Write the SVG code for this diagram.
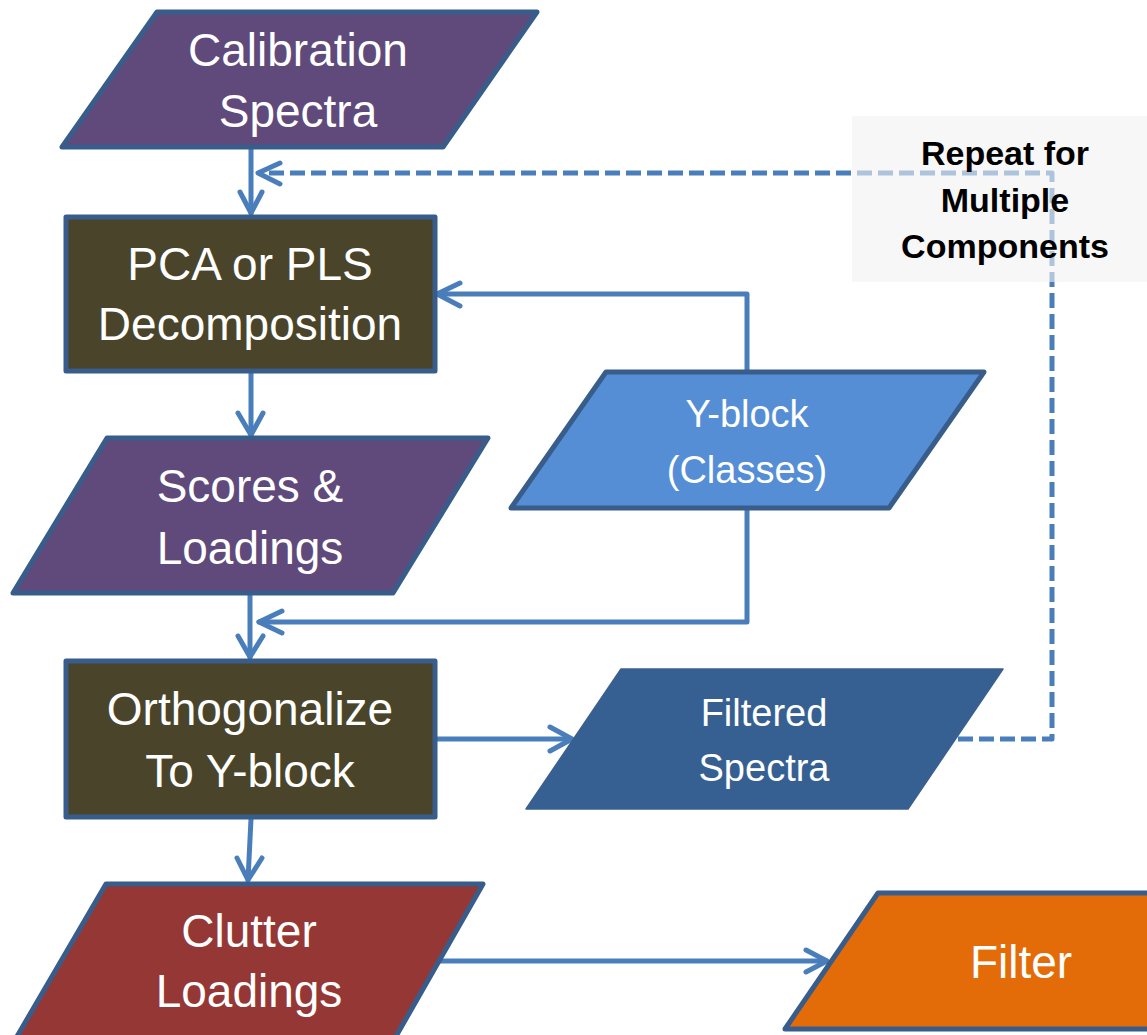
<svg xmlns="http://www.w3.org/2000/svg" width="1147" height="1035" viewBox="0 0 1147 1035">
<style>
.shape{stroke:#385d8a;stroke-width:5;stroke-linejoin:round}
.lbl{font-family:"Liberation Sans",Arial,sans-serif;fill:#ffffff;text-anchor:middle}
.big{font-size:46px}
.mid{font-size:38px}
.con{fill:none;stroke:#4a7ebb;stroke-width:5;stroke-linecap:round;stroke-linejoin:round}
.dash{stroke-dasharray:15 6;stroke-linecap:butt}
.note{font-family:"Liberation Sans",Arial,sans-serif;font-weight:bold;font-size:34px;fill:#000000;text-anchor:middle}
</style>
<rect width="1147" height="1035" fill="#ffffff"/>
<g id="connectors">
  <path class="con" d="M251,148 L251,213"/>
  <path class="con" d="M240,192 L251,213 L262,192"/>
  <path class="con dash" d="M958,739 L1052,739 L1052,173 L262,173"/>
  <path class="con" d="M280,163 L258,173 L280,184"/>
  <path class="con" d="M747,371 L747,294 L438,294"/>
  <path class="con" d="M460,283 L437,294 L460,306"/>
  <path class="con" d="M251,372 L251,435"/>
  <path class="con" d="M238,413 L251,435 L263,413"/>
  <path class="con" d="M250,594 L250,657"/>
  <path class="con" d="M238,636 L250,657 L263,636"/>
  <path class="con" d="M747,509 L747,622 L259,622"/>
  <path class="con" d="M282,611 L259,622 L282,633"/>
  <path class="con" d="M437,739 L571,739"/>
  <path class="con" d="M550,727 L572,739 L550,751"/>
  <path class="con" d="M251,819 L248,880"/>
  <path class="con" d="M237,858 L248,880 L262,858"/>
  <path class="con" d="M440,961 L826,961"/>
  <path class="con" d="M806,950 L827,961 L806,972"/>
</g>
<g id="calibration-spectra">
  <polygon class="shape" fill="#604a7b" points="157,12 537,12 443,147 62,147"/>
  <text class="lbl big" x="298" y="66">Calibration</text>
  <text class="lbl big" x="298" y="127">Spectra</text>
</g>
<g id="pca-pls">
  <rect class="shape" fill="#4a452a" x="66" y="217" width="369" height="154"/>
  <text class="lbl big" x="250" y="280">PCA or PLS</text>
  <text class="lbl big" x="250" y="340">Decomposition</text>
</g>
<g id="scores-loadings">
  <polygon class="shape" fill="#604a7b" points="107,438 488,438 393,593 13,593"/>
  <text class="lbl big" x="250" y="502">Scores &amp;</text>
  <text class="lbl big" x="250" y="564">Loadings</text>
</g>
<g id="y-block">
  <polygon class="shape" fill="#558ed5" points="606,372 984,372 889,508 511,508"/>
  <text class="lbl mid" x="747" y="427">Y-block</text>
  <text class="lbl mid" x="747" y="483">(Classes)</text>
</g>
<g id="orthogonalize">
  <rect class="shape" fill="#4a452a" x="66" y="661" width="369" height="156"/>
  <text class="lbl big" x="250" y="725">Orthogonalize</text>
  <text class="lbl big" x="250" y="787">To Y-block</text>
</g>
<g id="filtered-spectra">
  <polygon fill="#376092" stroke="#3a5f8f" stroke-width="1.5" stroke-linejoin="round" points="621,669 1003,669 908,809 526,809"/>
  <text class="lbl mid" x="764" y="726">Filtered</text>
  <text class="lbl mid" x="764" y="781">Spectra</text>
</g>
<g id="clutter-loadings">
  <polygon class="shape" fill="#953735" points="106,884 483,884 391,1045 12,1045"/>
  <text class="lbl big" x="249" y="947">Clutter</text>
  <text class="lbl big" x="249" y="1007">Loadings</text>
</g>
<g id="filter">
  <polygon class="shape" fill="#e36c09" points="878,893 1200,893 1200,1029 785,1029"/>
  <text class="lbl big" x="1021" y="978">Filter</text>
</g>
<g id="repeat-note">
  <rect x="852" y="116" width="300" height="166" fill="#f2f2f2" fill-opacity="0.6"/>
  <text class="note" x="1005" y="165">Repeat for</text>
  <text class="note" x="1005" y="212">Multiple</text>
  <text class="note" x="1005" y="258">Components</text>
</g>
</svg>
